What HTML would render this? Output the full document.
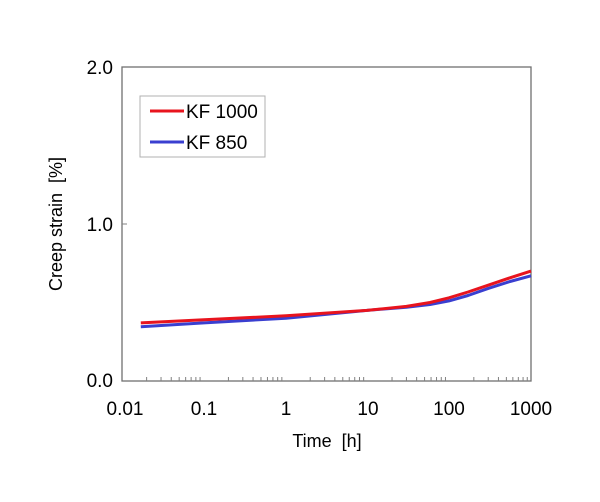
<!DOCTYPE html>
<html><head><style>body{margin:0;background:#fff}svg{display:block}text{font-family:"Liberation Sans",Arial,sans-serif;fill:#000}</style></head>
<body>
<svg id="s" width="600" height="502" xmlns="http://www.w3.org/2000/svg">
<rect x="122" y="67" width="409" height="314" fill="none" stroke="#707070" stroke-width="1.3"/>
<g id="ticks" stroke="#808080" stroke-width="1"></g>
<line x1="122" y1="224" x2="127" y2="224" stroke="#808080"/>
<g font-size="19" text-anchor="end">
<text x="113" y="74">2.0</text><text x="113" y="231">1.0</text><text x="113" y="387">0.0</text>
</g>
<g font-size="19" text-anchor="middle">
<text x="125" y="415">0.01</text><text x="204" y="415">0.1</text><text x="286" y="415">1</text>
<text x="368" y="415">10</text><text x="449" y="415">100</text><text x="531" y="415">1000</text>
</g>
<g font-size="18" text-anchor="middle">
<text x="327" y="447">Time&#160;&#160;[h]</text>
<text transform="translate(62,224) rotate(-90)">Creep strain&#160;&#160;[%]</text>
</g>
<rect x="140" y="96" width="125" height="61" fill="#fff" stroke="#b0b0b0"/>
<line x1="150" y1="111" x2="184" y2="111" stroke="#e8141e" stroke-width="3"/>
<line x1="150" y1="142" x2="184" y2="142" stroke="#3a3fd0" stroke-width="3"/>
<text x="186" y="118" font-size="19">KF 1000</text>
<text x="186" y="149" font-size="19">KF 850</text>
<polyline fill="none" stroke="#3a3fd0" stroke-width="3" stroke-linejoin="round" points="140.8,326.8 204,322.9 286,318.2 367,310.4 406.4,307.2 430,304.5 449,300.9 468,295.5 488.2,288.4 510,281.5 531,275.8"/>
<polyline fill="none" stroke="#e8141e" stroke-width="3" stroke-linejoin="round" points="140.8,322.9 204,319.8 286,315.8 367,310.4 406.4,306.4 430,302.5 449,297.8 468,292 488.2,285.2 510,277.8 531,271.1"/>
</svg>
<script>
var g=document.getElementById('ticks'),h='';
for(var d=0;d<5;d++)for(var k=2;k<=9;k++){var x=122+81.8*(d+Math.log10(k));h+='<line x1="'+x+'" y1="381" x2="'+x+'" y2="377"/>';}
g.innerHTML=h;
</script>
</body></html>
